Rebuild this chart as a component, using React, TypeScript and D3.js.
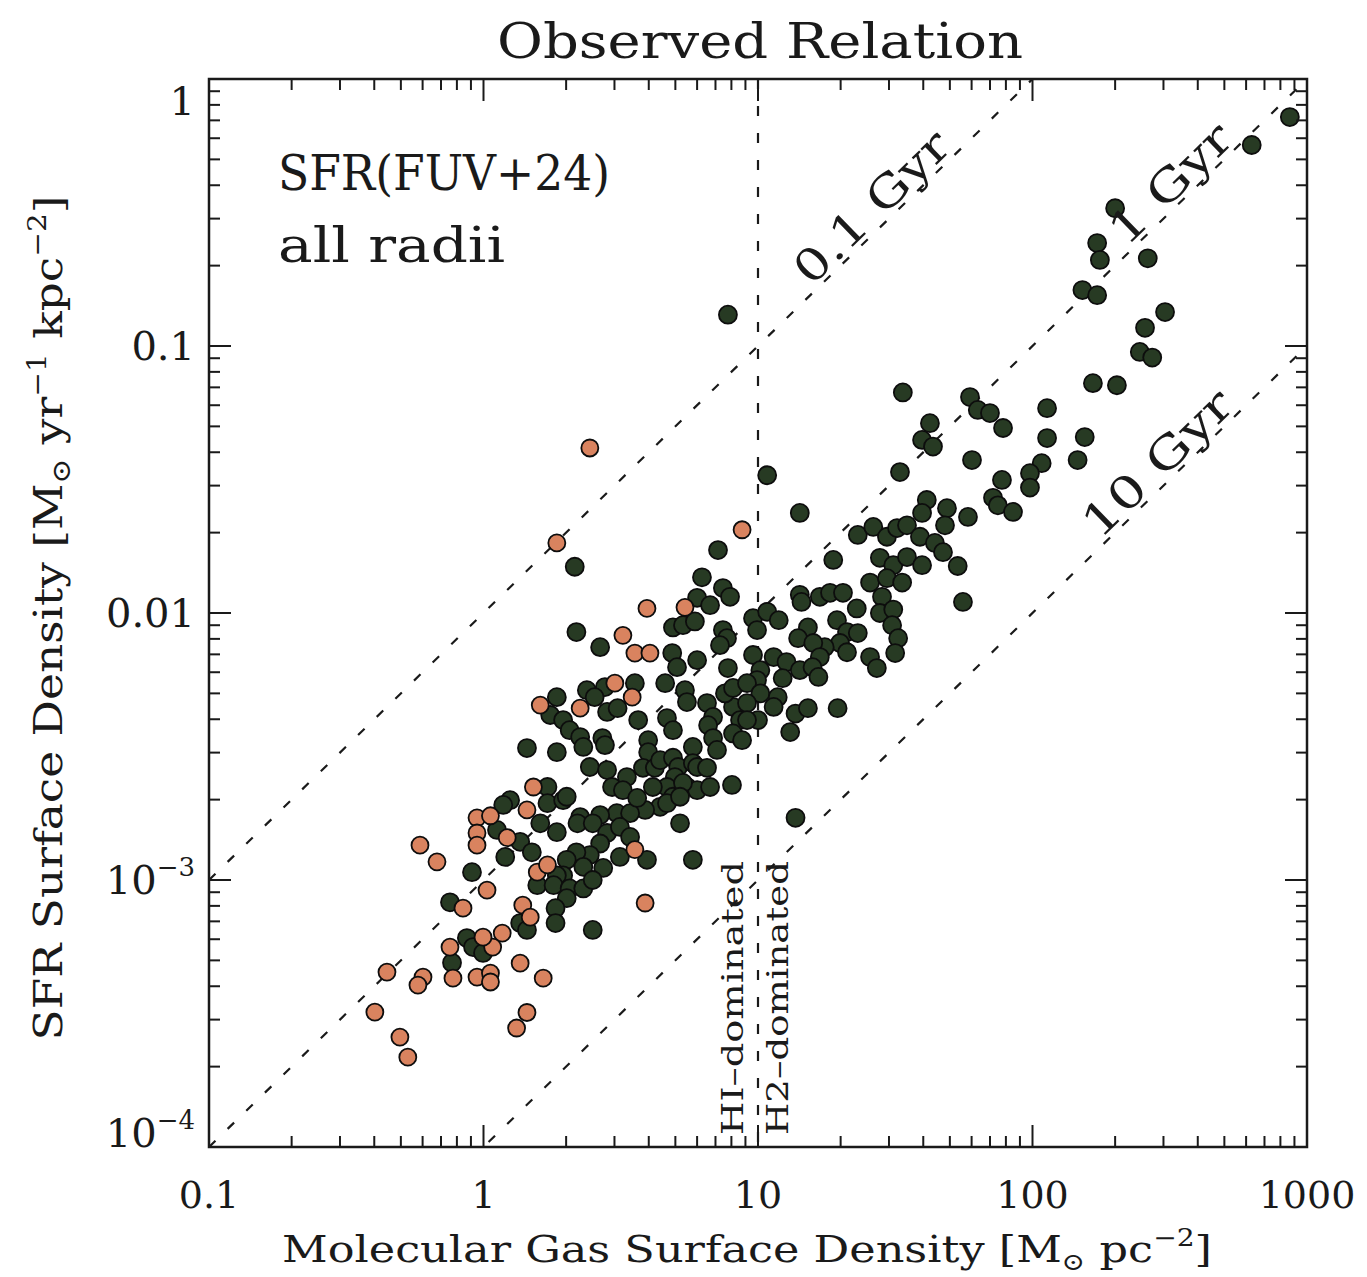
import React from "react";
import * as d3 from "d3";

// ---------- data ----------
const xTickValues = [0.1, 1, 10, 100, 1000];
const xTickLabels = ["0.1", "1", "10", "100", "1000"];
const yTickValues = [1e-4, 1e-3, 0.01, 0.1, 1];
const yTickBase = ["10", "10", "0.01", "0.1", "1"];
const yTickSup = ["−4", "−3", "", "", ""];

const depletionTimesGyr = [0.1, 1, 10];
const depletionLabels = ["0.1 Gyr", "1 Gyr", "10 Gyr"];
const depletionLabelGas = [29.2, 358, 321];
const dividingGas = 10;

// [gas surface density (Msun/pc^2), SFR surface density (Msun/yr/kpc^2)]
const orangePoints: [number, number][] = [
  [2.44, 0.0415], [1.85, 0.0183], [8.75, 0.0205], [3.94, 0.0104], [5.42, 0.0105],
  [3.22, 0.00825], [3.56, 0.00708], [4.04, 0.00708], [3.01, 0.00546], [3.48, 0.00484],
  [1.61, 0.00452], [2.25, 0.0044], [1.52, 0.00223], [1.44, 0.00183], [0.947, 0.00171],
  [1.06, 0.00174], [0.947, 0.0015], [0.947, 0.00135], [0.587, 0.00135], [0.677, 0.00117],
  [1.22, 0.00144], [1.57, 0.00107], [1.71, 0.00114], [1.03, 0.000917], [0.842, 0.000784],
  [1.39, 0.000805], [1.48, 0.000726], [3.88, 0.00082], [1.17, 0.000633], [1.08, 0.000561],
  [0.996, 0.000611], [0.755, 0.000561], [0.774, 0.000429], [0.947, 0.000433], [1.06, 0.000448],
  [1.65, 0.000429], [0.445, 0.000452], [0.602, 0.000433], [0.577, 0.000404], [0.402, 0.00032],
  [1.44, 0.000319], [1.32, 0.000279], [0.496, 0.000258], [0.53, 0.000217], [3.56, 0.0013],
  [1.06, 0.000415], [1.36, 0.000488],
];

const greenPoints: [number, number][] = [
  [2.15, 0.0149], [2.18, 0.00848], [2.66, 0.00745], [1.85, 0.00484], [1.75, 0.00415],
  [1.95, 0.00397], [2.06, 0.00364], [2.38, 0.00514], [2.77, 0.00528], [1.44, 0.00312],
  [1.85, 0.00301], [1.25, 0.00199], [1.71, 0.00223], [1.71, 0.00194], [1.95, 0.00199],
  [7.15, 0.0172], [6.25, 0.0136], [7.45, 0.0124], [7.91, 0.0115], [6.0, 0.0114],
  [6.69, 0.0107], [4.9, 0.00883], [5.33, 0.009], [5.89, 0.0093], [7.45, 0.00863],
  [7.71, 0.00805], [7.27, 0.00758], [4.87, 0.00708], [5.07, 0.00627], [6.0, 0.00666],
  [7.77, 0.00622], [2.54, 0.00484], [3.56, 0.00546], [2.82, 0.00426], [3.08, 0.0044],
  [2.25, 0.00343], [2.31, 0.00315], [2.71, 0.0034], [2.77, 0.0032], [3.66, 0.00397],
  [4.59, 0.00546], [5.42, 0.00514], [5.51, 0.00464], [4.66, 0.00404], [4.9, 0.00364],
  [3.98, 0.00334], [3.98, 0.00301], [2.44, 0.00265], [2.82, 0.00258], [2.94, 0.00223],
  [3.33, 0.00243], [3.22, 0.00217], [2.01, 0.00205], [3.81, 0.00263], [4.21, 0.00263],
  [4.4, 0.00281], [4.9, 0.00287], [5.12, 0.00265], [4.98, 0.00243], [5.79, 0.00315],
  [5.79, 0.00274], [6.52, 0.0046], [6.86, 0.00408], [6.58, 0.0038], [6.86, 0.0034],
  [7.09, 0.00307], [6.0, 0.00265], [6.52, 0.00263], [8.11, 0.00445], [8.6, 0.00397],
  [8.11, 0.00354], [8.75, 0.00334], [7.58, 0.005], [8.11, 0.00524], [8.04, 0.00227],
  [4.66, 0.00223], [4.9, 0.00205], [5.51, 0.00223], [6.0, 0.00217], [4.4, 0.00188],
  [3.88, 0.00183], [3.06, 0.00178], [3.42, 0.00178], [2.66, 0.00175], [2.25, 0.00172],
  [3.63, 0.00203], [4.14, 0.00223], [5.33, 0.00231], [6.69, 0.00223], [4.66, 0.00194],
  [5.2, 0.00205],
  [10.8, 0.0328], [14.2, 0.0237], [32.9, 0.0337], [39.6, 0.0445], [43.4, 0.042],
  [41.2, 0.0265], [48.8, 0.0247], [58.2, 0.0229], [71.8, 0.027], [74.8, 0.0253],
  [84.9, 0.0239], [39.6, 0.0237], [48, 0.0213], [23.1, 0.0196], [26.3, 0.021],
  [29.5, 0.0193], [32.1, 0.0208], [34.9, 0.0213], [38.9, 0.0193], [44.1, 0.0183],
  [47.2, 0.0169], [18.8, 0.0158], [27.8, 0.0161], [31.1, 0.0151], [34.9, 0.0162],
  [39.6, 0.0151], [53.4, 0.015], [25.6, 0.013], [29.5, 0.0135], [33.5, 0.013],
  [14.2, 0.0117], [14.4, 0.011], [16.8, 0.0115], [18.3, 0.0119], [20.4, 0.0119],
  [22.9, 0.0104], [28.3, 0.0115], [27.8, 0.01], [31.1, 0.0103], [30.8, 0.009],
  [32.4, 0.00805], [31.6, 0.00708], [55.8, 0.011], [9.59, 0.00956], [10.8, 0.0101],
  [11.9, 0.0094], [9.92, 0.00863], [15.2, 0.00883], [14.0, 0.00805], [19.4, 0.0094],
  [21.1, 0.00848], [23.1, 0.00841], [19.9, 0.00772], [21.1, 0.00713], [17.5, 0.00745],
  [15.9, 0.00772], [16.8, 0.00684], [25.6, 0.00684], [27.1, 0.00622], [9.59, 0.00696],
  [11.4, 0.00684], [12.7, 0.00655], [14.2, 0.00611], [15.8, 0.00627], [10.2, 0.00611],
  [9.92, 0.00561], [12.3, 0.0057], [16.6, 0.00576], [9.12, 0.00546], [10.2, 0.005],
  [11.8, 0.00484], [11.4, 0.00445], [9.12, 0.0046], [13.7, 0.0042], [15.2, 0.0044],
  [19.5, 0.0044], [10.0, 0.00397], [9.12, 0.00397], [13.1, 0.00358],
  [7.77, 0.131], [33.7, 0.067], [42.3, 0.0514], [866, 0.72], [629, 0.566],
  [200, 0.328], [172, 0.243], [176, 0.21], [263, 0.213], [152, 0.162],
  [172, 0.155], [304, 0.134], [257, 0.117], [246, 0.095], [273, 0.0905],
  [166, 0.0726], [203, 0.0713], [59.2, 0.0644], [63.2, 0.0576], [70, 0.0561],
  [78.1, 0.0493], [113, 0.0585], [113, 0.0452], [155, 0.0456], [60.2, 0.0374],
  [108, 0.0364], [146, 0.0374], [97.9, 0.0334], [77.4, 0.0315], [97.9, 0.0295],
  [0.908, 0.00107], [0.755, 0.000825], [0.87, 0.000606], [0.916, 0.000561], [0.996, 0.000533],
  [0.768, 0.00049], [1.12, 0.00154], [1.18, 0.00191], [1.61, 0.00163], [1.85, 0.00151],
  [1.36, 0.00139], [1.5, 0.00127], [1.2, 0.00122], [2.2, 0.00163], [2.5, 0.00163],
  [2.82, 0.0015], [3.14, 0.00158], [5.2, 0.00163], [3.42, 0.00145], [3.94, 0.00119],
  [3.14, 0.00122], [2.66, 0.00137], [2.44, 0.00124], [2.73, 0.00111], [2.18, 0.00127],
  [2.01, 0.00119], [2.31, 0.00112], [1.95, 0.00104], [1.85, 0.00104], [1.57, 0.000956],
  [1.8, 0.000956], [2.06, 0.00093], [2.31, 0.00093], [2.5, 0.001], [2.01, 0.000855],
  [1.83, 0.000784], [1.83, 0.00069], [5.79, 0.00119], [2.5, 0.00065], [1.36, 0.00069],
  [1.44, 0.00065], [13.7, 0.00171],
];

// ---------- component ----------
const FONT = "'DejaVu Serif', 'Liberation Serif', serif";
const INK = "#1a1a1a";

export default function App() {
  const W = 1367, H = 1277;
  const left = 209, right = 1307, top = 79, bottom = 1147;

  const x = d3.scaleLog().domain([0.1, 1000]).range([left, right]);
  const y = d3.scaleLog().domain([1e-4, 1]).range([bottom, top]);

  const minorOf = (decades: number[]) => {
    const out: number[] = [];
    decades.forEach((d) => {
      for (let k = 2; k <= 9; k++) out.push(d * k);
    });
    return out;
  };
  const xMinor = minorOf(xTickValues.slice(0, -1));
  const yMinor = minorOf(yTickValues.slice(0, -1));

  const majorLen = 22, minorLen = 11;

  const thetaRad = Math.atan2(y(1e-4) - y(1e-3), x(1) - x(0.1));
  const thetaDeg = (thetaRad * 180) / Math.PI;
  const labelOffset = 21;
  const nx = -Math.sin(thetaRad) * labelOffset;
  const ny = -Math.cos(thetaRad) * labelOffset;
  const labelLengths = [198, 152, 190];

  const line = d3.line<[number, number]>().x((d) => x(d[0])).y((d) => y(d[1]));
  const [g0, g1] = x.domain();

  const yLabelShift = (i: number) => (i === 0 ? -14 : i === yTickValues.length - 1 ? 22 : 0);

  return (
    <div style={{ position: "absolute", left: 0, top: 0 }}>
      <svg width={W} height={H} style={{ display: "block", background: "#fff" }} fontFamily={FONT}>
        <defs>
          <clipPath id="plotClip">
            <rect x={left} y={top} width={right - left} height={bottom - top} />
          </clipPath>
        </defs>

        {/* depletion-time lines */}
        <g clipPath="url(#plotClip)" stroke={INK} strokeWidth={2.2} strokeDasharray="9,17" fill="none">
          {depletionTimesGyr.map((t) => (
            <path key={t} d={line([[g0, (g0 * 1e-3) / t], [g1, (g1 * 1e-3) / t]]) || ""} />
          ))}
          <line x1={x(dividingGas)} x2={x(dividingGas)} y1={top} y2={bottom} strokeDasharray="10,17" />
        </g>

        {/* points */}
        <g stroke="#0d0d0d" strokeWidth={1.8}>
          {greenPoints.map((d, i) => (
            <circle key={"g" + i} cx={x(d[0])} cy={y(d[1])} r={9} fill="#273a23" />
          ))}
          {orangePoints.map((d, i) => (
            <circle key={"o" + i} cx={x(d[0])} cy={y(d[1])} r={8.5} fill="#d9835f" />
          ))}
        </g>

        {/* frame */}
        <rect x={left} y={top} width={right - left} height={bottom - top} fill="none" stroke={INK} strokeWidth={2.5} />

        {/* ticks */}
        <g stroke={INK} strokeWidth={2}>
          {xTickValues.map((v) => (
            <g key={"xt" + v}>
              <line x1={x(v)} x2={x(v)} y1={bottom} y2={bottom - majorLen} />
              <line x1={x(v)} x2={x(v)} y1={top} y2={top + majorLen} />
            </g>
          ))}
          {xMinor.map((v) => (
            <g key={"xm" + v}>
              <line x1={x(v)} x2={x(v)} y1={bottom} y2={bottom - minorLen} />
              <line x1={x(v)} x2={x(v)} y1={top} y2={top + minorLen} />
            </g>
          ))}
          {yTickValues.map((v) => (
            <g key={"yt" + v}>
              <line x1={left} x2={left + majorLen} y1={y(v)} y2={y(v)} />
              <line x1={right} x2={right - majorLen} y1={y(v)} y2={y(v)} />
            </g>
          ))}
          {yMinor.map((v) => (
            <g key={"ym" + v}>
              <line x1={left} x2={left + minorLen} y1={y(v)} y2={y(v)} />
              <line x1={right} x2={right - minorLen} y1={y(v)} y2={y(v)} />
            </g>
          ))}
        </g>

        {/* tick labels */}
        <g fill={INK} fontSize={38}>
          {xTickValues.map((v, i) => (
            <text key={"xl" + v} x={x(v)} y={1208} textAnchor="middle">
              {xTickLabels[i]}
            </text>
          ))}
        </g>
        <g fill={INK} fontSize={40}>
          {yTickValues.map((v, i) => (
            <text key={"yl" + v} x={195} y={y(v) + 14 + yLabelShift(i)} textAnchor="end">
              {yTickBase[i]}
              {yTickSup[i] ? (
                <tspan fontSize={26} dy={-18}>
                  {yTickSup[i]}
                </tspan>
              ) : null}
            </text>
          ))}
        </g>

        {/* title */}
        <text x={760} y={58} textAnchor="middle" fontSize={48} fill={INK} textLength={526} lengthAdjust="spacingAndGlyphs">
          Observed Relation
        </text>

        {/* x axis title */}
        <text x={747} y={1262} textAnchor="middle" fontSize={38} fill={INK} textLength={930} lengthAdjust="spacingAndGlyphs">
          Molecular Gas Surface Density [M
          <tspan fontSize={24} dy={8}>⊙</tspan>
          <tspan dy={-8}> pc</tspan>
          <tspan fontSize={24} dy={-16}>−2</tspan>
          <tspan dy={16}>]</tspan>
        </text>

        {/* y axis title */}
        <text transform="translate(62,618) rotate(-90)" textAnchor="middle" fontSize={40} fill={INK} textLength={845} lengthAdjust="spacingAndGlyphs">
          SFR Surface Density [M
          <tspan fontSize={26} dy={8}>⊙</tspan>
          <tspan dy={-8}> yr</tspan>
          <tspan fontSize={26} dy={-16}>−1</tspan>
          <tspan dy={16}> kpc</tspan>
          <tspan fontSize={26} dy={-16}>−2</tspan>
          <tspan dy={16}>]</tspan>
        </text>

        {/* inset annotation */}
        <text x={278} y={190} fontSize={48} fill={INK} textLength={332} lengthAdjust="spacingAndGlyphs">
          SFR(FUV+24)
        </text>
        <text x={278} y={262} fontSize={48} fill={INK} textLength={227} lengthAdjust="spacingAndGlyphs">
          all radii
        </text>

        {/* depletion labels */}
        {depletionTimesGyr.map((t, i) => {
          const g = depletionLabelGas[i];
          const px = x(g) + nx;
          const py = y((g * 1e-3) / t) + ny;
          return (
            <text
              key={"dl" + t}
              transform={`translate(${px},${py}) rotate(${-thetaDeg})`}
              textAnchor="middle"
              dy="0.36em"
              fontSize={44}
              fill={INK}
              textLength={labelLengths[i]}
              lengthAdjust="spacingAndGlyphs"
            >
              {depletionLabels[i]}
            </text>
          );
        })}

        {/* regime labels */}
        <text transform={`translate(${x(dividingGas) - 15},1135) rotate(-90)`} fontSize={29} fill={INK} textLength={274} lengthAdjust="spacingAndGlyphs">
          HI–dominated
        </text>
        <text transform={`translate(${x(dividingGas) + 30},1135) rotate(-90)`} fontSize={29} fill={INK} textLength={274} lengthAdjust="spacingAndGlyphs">
          H2–dominated
        </text>
      </svg>
    </div>
  );
}
